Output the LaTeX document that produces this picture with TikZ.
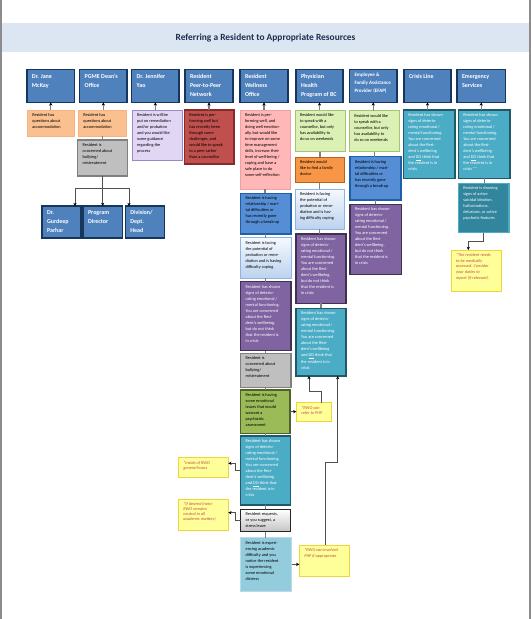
\documentclass[tikz,border=0pt]{standalone}
\usepackage{fontspec}
\setmainfont{Carlito}
\usetikzlibrary{arrows.meta,shadows}
\definecolor{bandc}{HTML}{DCE6F2}
\definecolor{titlec}{HTML}{1F2D4D}
\definecolor{hdrfill}{HTML}{4F81BD}
\definecolor{hdrdraw}{HTML}{17365D}
\definecolor{orlf}{HTML}{FAC090}
\definecolor{orld}{HTML}{F5B384}
\definecolor{greyf}{HTML}{BFBFBF}
\definecolor{greyd}{HTML}{808080}
\definecolor{lavf}{HTML}{E1D7F5}
\definecolor{lavd}{HTML}{9C88C9}
\definecolor{redf}{HTML}{C0504D}
\definecolor{redd}{HTML}{8A2A28}
\definecolor{pinkf}{HTML}{FFB7B7}
\definecolor{pinkd}{HTML}{F0A0A0}
\definecolor{lgrf}{HTML}{DBF0B5}
\definecolor{lgrd}{HTML}{A6C46E}
\definecolor{orf}{HTML}{F79646}
\definecolor{ord}{HTML}{B4641F}
\definecolor{lbtop}{HTML}{F5F9FE}
\definecolor{lbbot}{HTML}{BCD2EE}
\definecolor{lbd}{HTML}{8EB4E3}
\definecolor{mbf}{HTML}{558ED5}
\definecolor{mbd}{HTML}{1F5FAA}
\definecolor{purf}{HTML}{8064A2}
\definecolor{purd}{HTML}{3F3151}
\definecolor{tealf}{HTML}{4BACC6}
\definecolor{teald}{HTML}{215968}
\definecolor{dtealf}{HTML}{31859C}
\definecolor{grnf}{HTML}{9BBB59}
\definecolor{grnd}{HTML}{4F6228}
\definecolor{stbot}{HTML}{C4C4C4}
\definecolor{stdraw}{HTML}{262626}
\definecolor{lbbf}{HTML}{93CDDD}
\definecolor{lbbd}{HTML}{B7DEE8}
\definecolor{notef}{HTML}{FFFF99}
\definecolor{noted}{HTML}{EED53A}
\definecolor{notet}{HTML}{C0504D}
\definecolor{linec}{HTML}{808080}
\definecolor{darkline}{HTML}{505050}

\newcommand{\bxtop}{2.5}
\newcommand{\bxleft}{5}
\newcommand{\mybox}[7]{%
  \pgfmathsetmacro{\mybw}{#5-#3}%
  \pgfmathsetmacro{\mybh}{#6-#4}%
  \node[bx,#2] (#1) at (#3,-#4) {\parbox[c][\mybh pt][t]{\mybw pt}{\vspace*{\bxtop pt}\hspace*{\bxleft pt}\begin{tabular}[t]{@{}l@{}}#7\end{tabular}}};%
}
\newcommand{\purtext}{Resident has shown\\signs of deterio-\\rating emotional /\\mental functioning.\\You are concerned\\about the Resi-\\dent's wellbeing,\\but do not think\\that the resident is\\in crisis}
\newcommand{\tealtext}{Resident has shown\\signs of deterio-\\rating emotional /\\mental functioning.\\You are concerned\\about the Resi-\\dent's wellbeing\\and \underline{DO} think that\\the resident is in\\crisis}

\tikzset{
  bx/.style={rectangle, anchor=north west, inner sep=0pt, outer sep=0pt},
  body/.style={font=\fontsize{4.3}{6}\selectfont, text=black},
  hdr/.style={fill=hdrfill, draw=hdrdraw, line width=1.1pt, text=white,
    font=\fontsize{6}{9.2}\selectfont\bfseries,
    drop shadow={shadow xshift=0.8pt, shadow yshift=-0.8pt, fill=black!45, opacity=0.6}},
  bot/.style={hdr, font=\fontsize{6}{8.7}\selectfont\bfseries},
  orl/.style={body, fill=orlf, draw=orld, line width=0.6pt},
  greyb/.style={body, fill=greyf, draw=greyd, line width=1.2pt},
  lav/.style={body, fill=lavf, draw=lavd, line width=0.9pt},
  redb/.style={body, fill=redf, draw=redd, line width=1.1pt},
  pinkb/.style={body, fill=pinkf, draw=pinkd, line width=0.8pt},
  lgr/.style={body, fill=lgrf, draw=lgrd, line width=0.8pt},
  orb/.style={body, fill=orf, draw=ord, line width=1pt},
  lbl/.style={body, top color=lbtop, bottom color=lbbot, draw=lbd, line width=0.9pt},
  mbl/.style={body, fill=mbf, draw=mbd, line width=1.1pt},
  pur/.style={body, fill=purf, draw=purd, line width=1.1pt, text=white},
  teal/.style={body, fill=tealf, draw=teald, line width=1.1pt, text=white},
  dteal/.style={body, fill=dtealf, draw=tealf, line width=1.1pt, text=white},
  grn/.style={body, fill=grnf, draw=grnd, line width=1.1pt},
  stress/.style={body, top color=white, bottom color=stbot, draw=stdraw, line width=1.1pt},
  lbb/.style={body, fill=lbbf, draw=lbbd, line width=1pt},
  note/.style={fill=notef, draw=noted, line width=0.8pt, text=notet,
    font=\fontsize{4.3}{5.8}\selectfont\itshape,
    drop shadow={shadow xshift=0.6pt, shadow yshift=-0.6pt, fill=black!35, opacity=0.5}},
  conn/.style={draw=linec, line width=1.2pt},
  uparr/.style={draw=linec, line width=1.2pt, -{Stealth[length=3.2pt, width=3.2pt, color=black]}},
  narr/.style={draw=darkline, line width=0.9pt, -{Stealth[length=3.2pt, width=3.2pt, color=black]}},
}

\begin{document}
\begin{tikzpicture}[x=1pt, y=1pt]
\useasboundingbox (0,0) rectangle (532,-619);
\fill[white] (0,0) rectangle (532,-619);
% page frame
\draw[draw=black!45, line width=1.5pt] (1,0) -- (1,-619);
\draw[draw=black!45, line width=1.5pt] (530,0) -- (530,-619);
% title band
\fill[bandc] (2,-23) rectangle (529,-51.5);
\node[font=\fontsize{9.4}{11}\selectfont\bfseries, text=titlec] (title) at (265.5,-38) {Referring a Resident to Appropriate Resources};

% headers
\renewcommand{\bxtop}{2.5}
\renewcommand{\bxleft}{5}
\mybox{h1}{hdr}{27}{69.6}{74.6}{102.4}{Dr. Jane\\McKay}
\mybox{h2}{hdr}{79.7}{69.6}{127}{102.4}{PGME Dean's\\Office}
\mybox{h3}{hdr}{131.7}{69.6}{179}{102.4}{Dr. Jennifer\\Yao}
\mybox{h4}{hdr}{185}{69.6}{233}{102.4}{Resident\\Peer-to-Peer\\Network}
\mybox{h5}{hdr}{240}{69.6}{288}{102.4}{Resident\\Wellness\\Office}
\mybox{h6}{hdr}{296}{69.6}{343}{102.4}{Physician\\Health\\Program of BC}
\mybox{h8}{hdr}{404}{69.6}{451}{102.4}{Crisis Line}
\mybox{h9}{hdr}{457}{69.6}{505.6}{102.4}{Emergency\\Services}
\renewcommand{\bxtop}{1.2}
\mybox{h7}{hdr, font=\fontsize{5}{8}\selectfont\bfseries}{349.5}{69.6}{397}{102.4}{Employee \&\\Family Assistance\\Provider (EFAP)}

% bottom blue boxes under column 2
\renewcommand{\bxtop}{2.6}
\mybox{b1}{bot}{42}{206}{81}{238}{Dr.\\Gurdeep\\Parhar}
\mybox{b2}{bot}{83}{206}{122.3}{238}{Program\\Director}
\mybox{b3}{bot}{125.3}{206}{164.3}{238}{Division/\\Dept.\\Head}

% body boxes
\renewcommand{\bxtop}{2.4}
\renewcommand{\bxleft}{5}
% column 1-4
\mybox{o1}{orl}{27.3}{110}{74.3}{136}{Resident has\\questions about\\accommodation}
\mybox{o2}{orl}{78.3}{110}{126.5}{136}{Resident has\\questions about\\accommodation}
\mybox{g2}{greyb}{77.7}{140}{127.7}{176}{Resident is\\concerned about\\bullying/\\mistreatment}
\mybox{lav3}{lav}{132}{110}{182.7}{160}{Resident is will be\\put on remediation\\and/or probation\\and you would like\\some guidance\\regarding the\\process}
\mybox{red4}{redb}{184.3}{110}{234}{164}{Resident is per-\\forming well but\\has recently been\\through some\\challenges, and\\would like to speak\\to a peer rather\\than a counsellor}
% column 5
\mybox{pink5}{pinkb}{240}{110}{290}{189.3}{Resident is per-\\forming well, and\\doing well emotion-\\ally, but would like\\to improve on some\\time management\\skills, increase their\\level of well-being /\\coping and have a\\safe place to do\\some self-reflection}
\mybox{mb5}{mbl}{240.7}{193.3}{291}{234}{Resident is having\\relationship / mari-\\tal difficulties or\\has recently gone\\through a break-up}
\mybox{lb5}{lbl}{240.7}{237.7}{291}{278.3}{Resident is facing\\the potential of\\probation or reme-\\diation and is having\\difficulty coping}
\mybox{pur5}{pur}{240.7}{281.7}{291}{350.7}{\purtext}
\mybox{gr5}{greyb}{240.7}{353.3}{291}{387.7}{Resident is\\concerned about\\bullying/\\mistreatment}
\mybox{grn5}{grn}{240.7}{390}{290}{433.3}{Resident is having\\some emotional\\issues that would\\warrant a\\psychiatric\\assessment}
\mybox{teal5}{teal}{240.7}{436}{290.7}{505}{\tealtext}
\mybox{st5}{stress}{240.7}{509.3}{290.7}{531.7}{Resident requests,\\or you suggest, a\\stress leave}
\mybox{lbb5}{lbb}{240.7}{537.7}{291.5}{591}{Resident is experi-\\encing academic\\difficulty and you\\notice the resident\\is experiencing\\some emotional\\distress}
% column 6
\mybox{lg6}{lgr}{295}{110}{345}{151.7}{Resident would like\\to speak with a\\counsellor, but only\\has availability to\\do so on weekends}
\mybox{or6}{orb}{295}{157.3}{344}{182.7}{Resident would\\like to find a family\\doctor}
\mybox{lb6}{lbl}{295}{189}{344}{229}{Resident is facing\\the potential of\\probation or reme-\\diation and is hav-\\ing difficulty coping}
\mybox{pur6}{pur}{296}{234}{346}{303.3}{\purtext}
\mybox{teal6}{teal}{296}{308.3}{346}{376}{\tealtext}
% column 7
\mybox{lg7}{lgr}{349.3}{110.7}{399.3}{151.7}{Resident would like\\to speak with a\\counsellor, but only\\has availability to\\do so on weekends}
\mybox{mb7}{mbl}{350}{156.7}{401}{200}{Resident is having\\relationship / mari-\\tal difficulties or\\has recently gone\\through a break-up}
\mybox{pur7}{pur}{350}{204.3}{401.5}{274.3}{\purtext}
% column 8, 9
\mybox{teal8}{teal}{403.3}{110}{455}{178.3}{\tealtext}
\mybox{teal9}{teal}{458.3}{110}{510}{178.3}{\tealtext\ **}
\mybox{dt9}{dteal}{458.3}{183.3}{509}{232.7}{Resident is showing\\signs of active\\suicidal ideation,\\hallucinations,\\delusions, or active\\psychotic features}

% notes
\renewcommand{\bxtop}{2.3}
\mybox{n9}{note}{451}{250}{501.7}{291}{*The resident needs\\to be medically\\assessed. Consider\\your duties to\\report (if relevant).}
\mybox{n1}{note}{296.3}{402.7}{331.7}{421}{*RWO can\\refer to PHP}
\mybox{n2}{note}{178.3}{457.7}{228.3}{477.3}{*Inside of RWO\\general hours}
\mybox{n3}{note, font=\fontsize{4.3}{5.2}\selectfont\itshape}{178.3}{499.3}{228.3}{530.7}{*If desired (note:\\RWO remains\\neutral in all\\academic matters)}
\mybox{n4}{note}{299.3}{545}{349.3}{576.7}{*RWO can involved\\PHP if appropriate}

% arrows into headers
\foreach \h/\b in {h1/o1, h2/o2, h3/lav3, h4/red4, h5/pink5, h6/lg6, h7/lg7, h8/teal8, h9/teal9}
  \draw[uparr] (\h.south |- \b.north) -- (\h.south);

% stacked links
\foreach \a/\b in {o2/g2, pink5/mb5, mb5/lb5, lb5/pur5, pur5/gr5, gr5/grn5, grn5/teal5, teal5/st5, st5/lbb5,
  lg6/or6, or6/lb6, lb6/pur6, pur6/teal6, lg7/mb7, mb7/pur7, teal9/dt9}
  \draw[conn] (\a.south) -- (\a.south |- \b.north);

% tree under column 2
\coordinate (tL) at (75,-188.3);
\coordinate (tR) at (129,-188.3);
\draw[narr] (g2.south) -- (g2.south |- b2.north);
\draw[narr] (g2.south |- tL) -- (tL) -- (tL |- b1.north);
\draw[narr] (g2.south |- tR) -- (tR) -- (tR |- b3.north);

% note connectors
\coordinate (c9) at (468.3,-241);
\draw[narr] (dt9.south) |- (c9) -- (c9 |- n9.north);
\draw[narr] (grn5.east) -- (grn5.east -| n1.west);
\coordinate (k1) at (321.7,-391);
\coordinate (k2) at (309,-391);
\draw[narr] (k1 |- n1.north) -- (k1) -- (k2) -- (k2 |- teal6.south);
\draw[narr] (lbb5.east) -- (lbb5.east -| n4.west);
\coordinate (k3) at (325,-462.7);
\coordinate (k4) at (337.7,-462.7);
\draw[narr] (k3 |- n4.north) -- (k3) -- (k4) -- (k4 |- teal6.south);
\coordinate (k5) at (235,-470.5);
\coordinate (k6) at (235,-463.3);
\draw[narr] (teal5.west) -- (k5) -- (k6) -- (k6 -| n2.east);
\coordinate (k7) at (235,-520.5);
\coordinate (k8) at (235,-512.7);
\draw[narr] (st5.west) -- (k7) -- (k8) -- (k8 -| n3.east);
\end{tikzpicture}
\end{document}
